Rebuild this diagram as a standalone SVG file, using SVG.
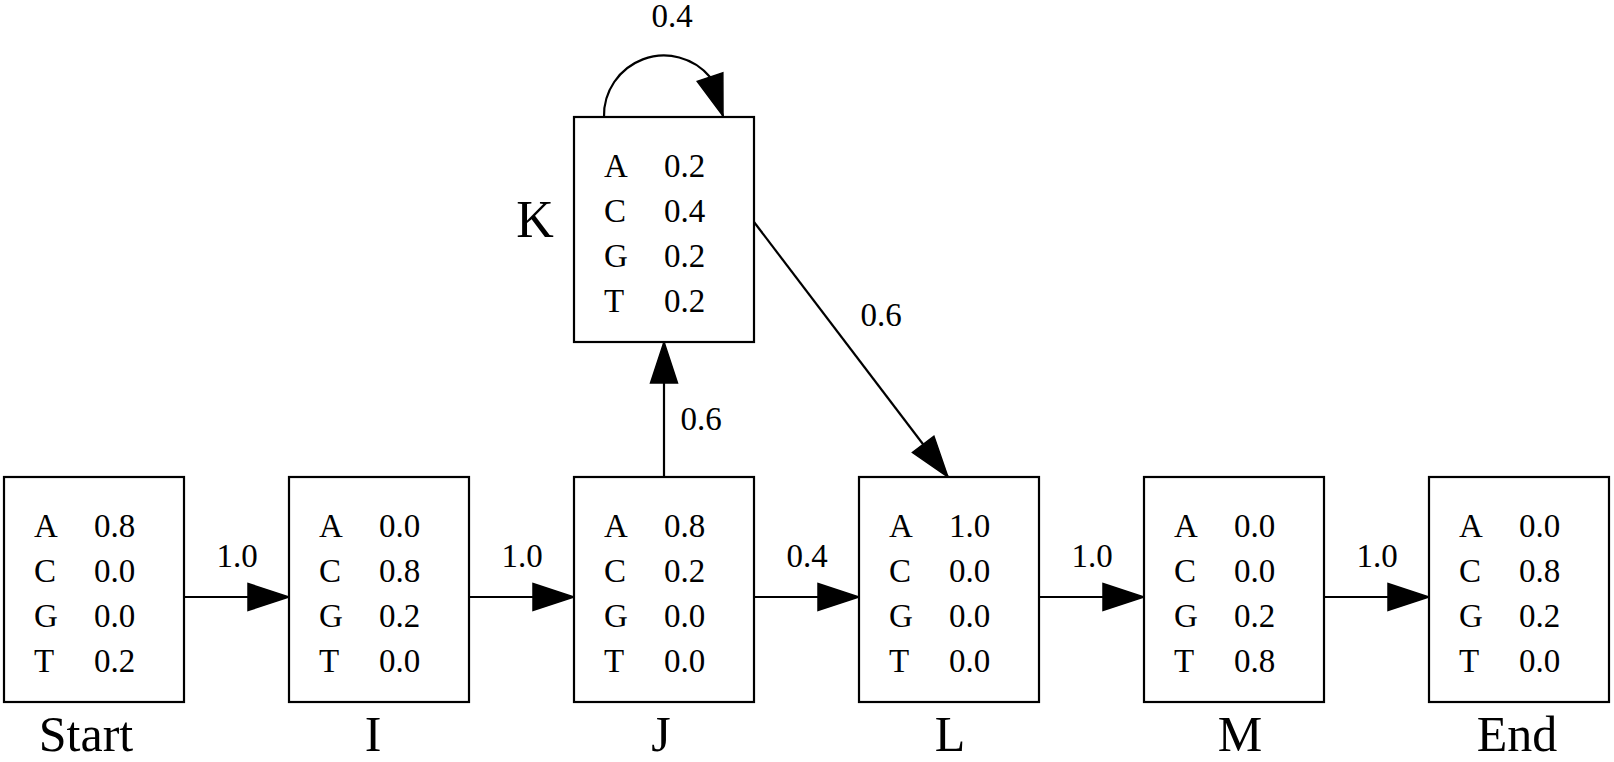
<svg xmlns="http://www.w3.org/2000/svg" width="1614" height="762" viewBox="0 0 1614 762">
<style>
text { font-family: "Liberation Serif", "Times New Roman", serif; fill: #000; }
.box { fill: #fff; stroke: #000; stroke-width: 2.2; }
.cell { font-size: 33px; }
.name { font-size: 50px; text-anchor: middle; }
.kname { font-size: 52px; text-anchor: middle; }
.elab { font-size: 33px; text-anchor: middle; }
.edge { fill: none; stroke: #000; stroke-width: 2.2; marker-end: url(#arr); }
</style>
<defs>
<marker id="arr" markerUnits="userSpaceOnUse" viewBox="0 -15 42 30" refX="41" refY="0" markerWidth="42" markerHeight="30" orient="auto" overflow="visible">
<path d="M0,-13.5 L41,0 L0,13.5 Z" fill="#000" stroke="#000" stroke-width="1.5"/>
</marker>
</defs>

<g id="connectors">
<path class="edge" d="M184,597 L289,597"/>
<path class="edge" d="M469,597 L574,597"/>
<path class="edge" d="M754,597 L859,597"/>
<path class="edge" d="M1039,597 L1144,597"/>
<path class="edge" d="M1324,597 L1429,597"/>
<path class="edge" d="M664,477 L664,342"/>
<path class="edge" d="M754,222 L948,477"/>
<path class="edge" d="M604,117 A60,60 0 0 1 710,77 L723,116"/>
<text class="elab" x="237" y="567">1.0</text>
<text class="elab" x="522" y="567">1.0</text>
<text class="elab" x="807" y="567">0.4</text>
<text class="elab" x="1092" y="567">1.0</text>
<text class="elab" x="1377" y="567">1.0</text>
<text class="elab" x="701" y="430">0.6</text>
<text class="elab" x="881" y="326">0.6</text>
<text class="elab" x="672" y="27">0.4</text>
</g>

<g id="node-start">
<rect class="box" x="4" y="477" width="180" height="225"/>
<text class="cell" x="34" y="537">A</text><text class="cell" x="94" y="537">0.8</text>
<text class="cell" x="34" y="582">C</text><text class="cell" x="94" y="582">0.0</text>
<text class="cell" x="34" y="627">G</text><text class="cell" x="94" y="627">0.0</text>
<text class="cell" x="34" y="672">T</text><text class="cell" x="94" y="672">0.2</text>
<text class="name" x="86" y="751">Start</text>
</g>

<g id="node-i">
<rect class="box" x="289" y="477" width="180" height="225"/>
<text class="cell" x="319" y="537">A</text><text class="cell" x="379" y="537">0.0</text>
<text class="cell" x="319" y="582">C</text><text class="cell" x="379" y="582">0.8</text>
<text class="cell" x="319" y="627">G</text><text class="cell" x="379" y="627">0.2</text>
<text class="cell" x="319" y="672">T</text><text class="cell" x="379" y="672">0.0</text>
<text class="name" x="373" y="751">I</text>
</g>

<g id="node-j">
<rect class="box" x="574" y="477" width="180" height="225"/>
<text class="cell" x="604" y="537">A</text><text class="cell" x="664" y="537">0.8</text>
<text class="cell" x="604" y="582">C</text><text class="cell" x="664" y="582">0.2</text>
<text class="cell" x="604" y="627">G</text><text class="cell" x="664" y="627">0.0</text>
<text class="cell" x="604" y="672">T</text><text class="cell" x="664" y="672">0.0</text>
<text class="name" x="661" y="751">J</text>
</g>

<g id="node-k">
<rect class="box" x="574" y="117" width="180" height="225"/>
<text class="cell" x="604" y="177">A</text><text class="cell" x="664" y="177">0.2</text>
<text class="cell" x="604" y="222">C</text><text class="cell" x="664" y="222">0.4</text>
<text class="cell" x="604" y="267">G</text><text class="cell" x="664" y="267">0.2</text>
<text class="cell" x="604" y="312">T</text><text class="cell" x="664" y="312">0.2</text>
<text class="kname" x="535" y="237">K</text>
</g>

<g id="node-l">
<rect class="box" x="859" y="477" width="180" height="225"/>
<text class="cell" x="889" y="537">A</text><text class="cell" x="949" y="537">1.0</text>
<text class="cell" x="889" y="582">C</text><text class="cell" x="949" y="582">0.0</text>
<text class="cell" x="889" y="627">G</text><text class="cell" x="949" y="627">0.0</text>
<text class="cell" x="889" y="672">T</text><text class="cell" x="949" y="672">0.0</text>
<text class="name" x="950" y="751">L</text>
</g>

<g id="node-m">
<rect class="box" x="1144" y="477" width="180" height="225"/>
<text class="cell" x="1174" y="537">A</text><text class="cell" x="1234" y="537">0.0</text>
<text class="cell" x="1174" y="582">C</text><text class="cell" x="1234" y="582">0.0</text>
<text class="cell" x="1174" y="627">G</text><text class="cell" x="1234" y="627">0.2</text>
<text class="cell" x="1174" y="672">T</text><text class="cell" x="1234" y="672">0.8</text>
<text class="name" x="1240" y="751">M</text>
</g>

<g id="node-end">
<rect class="box" x="1429" y="477" width="180" height="225"/>
<text class="cell" x="1459" y="537">A</text><text class="cell" x="1519" y="537">0.0</text>
<text class="cell" x="1459" y="582">C</text><text class="cell" x="1519" y="582">0.8</text>
<text class="cell" x="1459" y="627">G</text><text class="cell" x="1519" y="627">0.2</text>
<text class="cell" x="1459" y="672">T</text><text class="cell" x="1519" y="672">0.0</text>
<text class="name" x="1517" y="751">End</text>
</g>
</svg>
